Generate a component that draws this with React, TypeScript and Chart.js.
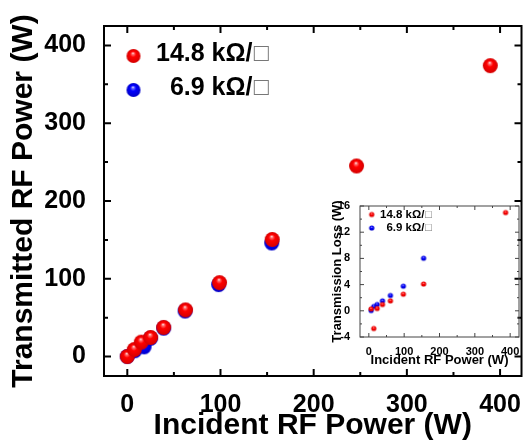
import React, { useEffect, useRef } from "react";
import { Chart, registerables } from "chart.js";

Chart.register(...registerables);

// ---------- data ----------
const seriesRedLabel = "14.8 kΩ/";
const seriesBlueLabel = "6.9 kΩ/";
const sheetSymbol = "□";

const redIncident = [0, 7.5, 15, 25, 39, 62.5, 99, 155.5, 246, 389.5];
const redTransmitted = [0, 9, 18.5, 24.5, 37.5, 60, 95, 150.5, 245, 374];
const blueIncident = [0, 8, 18, 25, 39, 62, 98, 155];
const blueTransmitted = [0, 7.5, 12.5, 23.5, 36.5, 58.5, 92.5, 146];

const lossRedIncident = [6.6, 14, 23.6, 38.6, 61, 97.7, 155, 387];
const lossRed = [0.3, -2.7, 0.36, 0.97, 1.52, 2.54, 4.1, 15.0];
const lossBlueIncident = [6.6, 14, 23.6, 38.6, 61, 97.7, 155];
const lossBlue = [0.05, 0.66, 0.97, 1.52, 2.34, 3.76, 8.03];

const mainXTicks = [0, 100, 200, 300, 400];
const mainYTicks = [0, 100, 200, 300, 400];
const insetXTicks = [0, 100, 200, 300, 400];
const insetYTicks = [-4, 0, 4, 8, 12, 16];

const mainXTitle = "Incident RF Power (W)";
const mainYTitle = "Transmitted RF Power (W)";
const insetXTitle = "Incident RF Power (W)";
const insetYTitle = "Transmission Loss (W)";

const FONT = "'Liberation Sans', Arial, Helvetica, sans-serif";

function makeSphere(r: number, light: string, base: string, dark: string) {
  const c = document.createElement("canvas");
  const s = Math.ceil(2 * r) + 2;
  c.width = s;
  c.height = s;
  const g = c.getContext("2d")!;
  const cx = s / 2, cy = s / 2;
  const grad = g.createRadialGradient(cx - 0.08 * r, cy - 0.42 * r, 0, cx, cy, r);
  grad.addColorStop(0, "#ffffff");
  grad.addColorStop(0.16, light);
  grad.addColorStop(0.42, base);
  grad.addColorStop(1, dark);
  g.fillStyle = grad;
  g.beginPath();
  g.arc(cx, cy, r, 0, Math.PI * 2);
  g.fill();
  return c;
}

function zip(xs: number[], ys: number[]) {
  return xs.map((x, i) => ({ x, y: ys[i] }));
}

function framePlugin(id: string, color: string, width: number, majorLen: number, minorLen: number, xMajor: number[], yMajor: number[], xMinorStep: number, yMinorStep: number) {
  return {
    id,
    beforeDatasetsDraw(chart: any) {
      const { ctx, chartArea: a, scales } = chart;
      const xs = scales.x, ys = scales.y;
      ctx.save();
      ctx.strokeStyle = color;
      ctx.lineWidth = width;
      ctx.strokeRect(a.left, a.top, a.right - a.left, a.bottom - a.top);
      const xMinor: number[] = [];
      for (let v = Math.ceil(xs.min / xMinorStep) * xMinorStep; v <= xs.max; v += xMinorStep) if (!xMajor.includes(v)) xMinor.push(v);
      const yMinor: number[] = [];
      for (let v = Math.ceil(ys.min / yMinorStep) * yMinorStep; v <= ys.max; v += yMinorStep) if (!yMajor.includes(v)) yMinor.push(v);
      ctx.beginPath();
      const hx = (vals: number[], len: number) => {
        vals.forEach((v) => {
          const p = xs.getPixelForValue(v);
          ctx.moveTo(p, a.bottom);
          ctx.lineTo(p, a.bottom - len);
          ctx.moveTo(p, a.top);
          ctx.lineTo(p, a.top + len);
        });
      };
      const vy = (vals: number[], len: number) => {
        vals.forEach((v) => {
          const p = ys.getPixelForValue(v);
          ctx.moveTo(a.left, p);
          ctx.lineTo(a.left + len, p);
          ctx.moveTo(a.right, p);
          ctx.lineTo(a.right - len, p);
        });
      };
      hx(xMajor, majorLen);
      hx(xMinor, minorLen);
      vy(yMajor, majorLen);
      vy(yMinor, minorLen);
      ctx.stroke();
      ctx.restore();
    },
  };
}

function legendPlugin(id: string, redImg: HTMLCanvasElement, blueImg: HTMLCanvasElement, markerX: number, y1: number, y2: number, textX: number, ty1: number, ty2: number, fontSize: number) {
  return {
    id,
    afterDatasetsDraw(chart: any) {
      const ctx = chart.ctx;
      ctx.save();
      ctx.drawImage(redImg, markerX - redImg.width / 2, y1 - redImg.height / 2);
      ctx.drawImage(blueImg, markerX - blueImg.width / 2, y2 - blueImg.height / 2);
      ctx.font = `bold ${fontSize}px ${FONT}`;
      ctx.fillStyle = "#000";
      ctx.textBaseline = "middle";
      ctx.textAlign = "left";
      const w1 = ctx.measureText(seriesRedLabel).width;
      const w2 = ctx.measureText(seriesBlueLabel).width;
      const end = textX + w1;
      ctx.fillText(seriesRedLabel, textX, ty1);
      ctx.fillText(seriesBlueLabel, end - w2, ty2);
      ctx.font = `${fontSize}px ${FONT}`;
      ctx.fillStyle = "#777";
      ctx.fillText(sheetSymbol, end + fontSize * 0.05, ty1);
      ctx.fillText(sheetSymbol, end + fontSize * 0.05, ty2);
      ctx.restore();
    },
  };
}

export default function App() {
  const mainRef = useRef<HTMLCanvasElement>(null);
  const insetRef = useRef<HTMLCanvasElement>(null);

  useEffect(() => {
    const redBig = makeSphere(7.5, "#ff7070", "#ff0000", "#d40000");
    const blueBig = makeSphere(7.5, "#7070ff", "#0000ff", "#0000c8");
    const redLeg = makeSphere(7, "#ff7070", "#ff0000", "#d40000");
    const blueLeg = makeSphere(7, "#7070ff", "#0000ff", "#0000c8");
    const redSmall = makeSphere(2.6, "#ff8080", "#ff0000", "#d40000");
    const blueSmall = makeSphere(2.6, "#8080ff", "#0000ff", "#0000c8");

    const tickFont = (size: number) => ({ family: FONT, size, weight: "bold" as const });

    const main = new Chart(mainRef.current!, {
      type: "scatter",
      data: {
        datasets: [
          { label: seriesRedLabel + sheetSymbol, data: zip(redIncident, redTransmitted), pointStyle: redBig as any, pointRadius: 7.5, showLine: false },
          { label: seriesBlueLabel + sheetSymbol, data: zip(blueIncident, blueTransmitted), pointStyle: blueBig as any, pointRadius: 7.5, showLine: false },
        ],
      },
      options: {
        responsive: false,
        animation: false,
        devicePixelRatio: 1,
        layout: { padding: { top: 26, right: 2, left: 0, bottom: 0 } },
        plugins: { legend: { display: false }, tooltip: { enabled: false } },
        scales: {
          x: {
            type: "linear",
            min: -25,
            max: 423,
            grid: { display: false },
            border: { display: false },
            afterBuildTicks: (s: any) => { s.ticks = mainXTicks.map((v) => ({ value: v })); },
            afterFit: (s: any) => { s.height = 68; },
            ticks: { font: tickFont(25), color: "#000", padding: 6, maxRotation: 0, autoSkip: false },
            title: { display: true, text: mainXTitle, font: tickFont(30), color: "#000", padding: { top: 0, bottom: 0 } },
          },
          y: {
            type: "linear",
            min: -25,
            max: 425,
            grid: { display: false },
            border: { display: false },
            afterBuildTicks: (s: any) => { s.ticks = mainYTicks.map((v) => ({ value: v })); },
            afterFit: (s: any) => { s.width = 104; },
            ticks: { font: tickFont(25), color: "#000", padding: 10, autoSkip: false },
            title: { display: true, text: mainYTitle, font: tickFont(30), color: "#000", padding: { top: 6, bottom: 0 } },
          },
        },
      },
      plugins: [
        framePlugin("mainFrame", "#000", 2, 7, 4, mainXTicks, mainYTicks, 50, 50),
        legendPlugin("mainLegend", redLeg, blueLeg, 133.5, 56, 90, 156, 54, 88, 25),
      ],
    } as any);

    const inset = new Chart(insetRef.current!, {
      type: "scatter",
      data: {
        datasets: [
          { label: seriesRedLabel + sheetSymbol, data: zip(lossRedIncident, lossRed), pointStyle: redSmall as any, pointRadius: 2.6, showLine: false },
          { label: seriesBlueLabel + sheetSymbol, data: zip(lossBlueIncident, lossBlue), pointStyle: blueSmall as any, pointRadius: 2.6, showLine: false },
        ],
      },
      options: {
        responsive: false,
        animation: false,
        devicePixelRatio: 1,
        layout: { padding: { top: 10, right: 11, left: 0, bottom: 0 } },
        plugins: { legend: { display: false }, tooltip: { enabled: false } },
        scales: {
          x: {
            type: "linear",
            min: -25,
            max: 425,
            grid: { display: false },
            border: { display: false },
            afterBuildTicks: (s: any) => { s.ticks = insetXTicks.map((v) => ({ value: v })); },
            afterFit: (s: any) => { s.height = 34; },
            ticks: { font: tickFont(11), color: "#000", padding: 0, maxRotation: 0, autoSkip: false },
            title: { display: true, text: insetXTitle, font: tickFont(13), color: "#000", padding: { top: 0, bottom: 3 } },
          },
          y: {
            type: "linear",
            min: -4,
            max: 16,
            grid: { display: false },
            border: { display: false },
            afterBuildTicks: (s: any) => { s.ticks = insetYTicks.map((v) => ({ value: v })); },
            afterFit: (s: any) => { s.width = 38; },
            ticks: { font: tickFont(11), color: "#000", padding: 2, autoSkip: false },
            title: { display: true, text: insetYTitle, font: tickFont(13), color: "#000", padding: { top: 8, bottom: 0 } },
          },
        },
      },
      plugins: [
        framePlugin("insetFrame", "#444", 1, 4, 2, insetXTicks, insetYTicks, 50, 2),
        legendPlugin("insetLegend", redSmall, blueSmall, 49.7, 18.5, 32, 58, 19, 32.3, 11.5),
      ],
    } as any);

    return () => {
      main.destroy();
      inset.destroy();
    };
  }, []);

  return (
    <div style={{ position: "absolute", left: 0, top: 0, width: 530, height: 444, background: "#fff" }}>
      <canvas ref={mainRef} width={530} height={444} style={{ position: "absolute", left: 0, top: 0, display: "block" }} />
      <canvas ref={insetRef} width={208} height={175} style={{ position: "absolute", left: 322, top: 196, display: "block" }} />
    </div>
  );
}
